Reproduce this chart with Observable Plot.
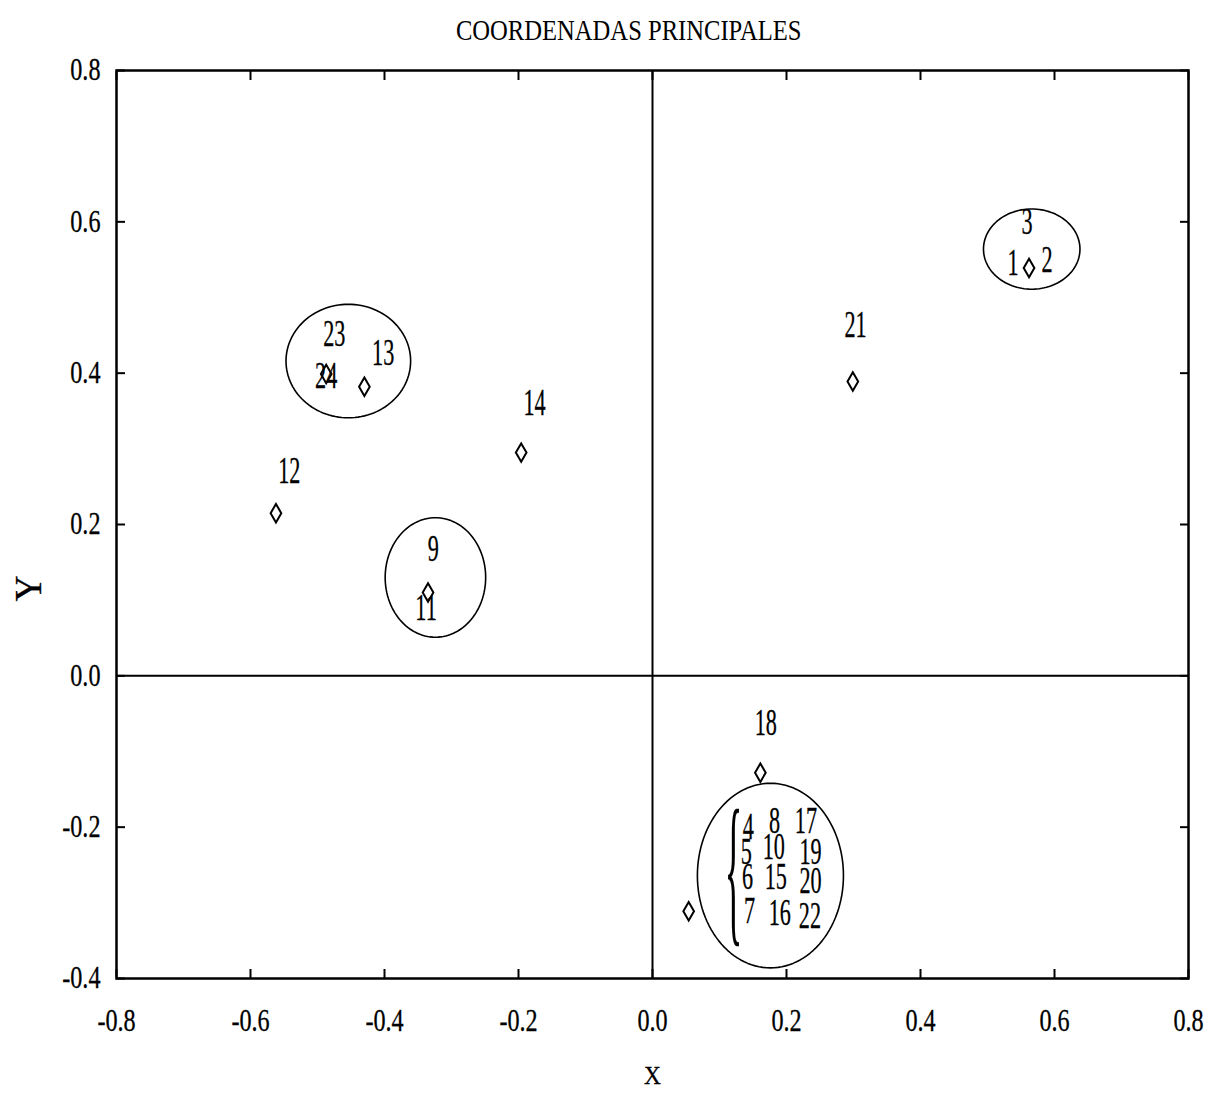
<!DOCTYPE html>
<html><head><meta charset="utf-8">
<script src="https://cdn.jsdelivr.net/npm/d3@7"></script>
<script src="https://cdn.jsdelivr.net/npm/@observablehq/plot@0.6"></script>
<style>
body{margin:0;background:#fff;font-family:"Liberation Serif","Times New Roman",serif;}
#title{width:1209px;height:50px;line-height:60px;box-sizing:border-box;padding-left:49px;text-align:center;font-size:30px;color:#000;white-space:nowrap;overflow:visible;position:relative;z-index:1}
#title span{display:inline-block;transform:scaleX(0.82);}
#chart svg{display:block}
#chart svg text{stroke:#000;stroke-width:0.3px}
</style></head><body>
<div id="title"><span>COORDENADAS PRINCIPALES</span></div>
<div id="chart"></div>
<script>
// Tick values
const xTicks = [-0.8, -0.6, -0.4, -0.2, 0.0, 0.2, 0.4, 0.6, 0.8];
const yTicks = [-0.4, -0.2, 0.0, 0.2, 0.4, 0.6, 0.8];

// Plotted points (diamonds)
const pointX = [0.562, 0.299, -0.430, -0.487, -0.196, -0.562, -0.335, 0.161, 0.054];
const pointY = [0.539, 0.389, 0.382, 0.399, 0.295, 0.215, 0.110, -0.128, -0.311];

// Point labels
const labelText = ["3", "1", "2", "21", "23", "13", "24", "14", "12", "9", "11", "18",
  "4", "8", "17", "5", "10", "19", "6", "15", "20", "7", "16", "22"];
const labelX = [0.559, 0.538, 0.589, 0.303, -0.475, -0.402, -0.487, -0.176, -0.542, -0.327, -0.338, 0.169,
  0.143, 0.182, 0.229, 0.140, 0.181, 0.236, 0.142, 0.184, 0.236, 0.145, 0.190, 0.235];
const labelY = [0.599, 0.546, 0.550, 0.463, 0.451, 0.427, 0.396, 0.361, 0.271, 0.168, 0.089, -0.063,
  -0.200, -0.192, -0.192, -0.233, -0.226, -0.233, -0.266, -0.266, -0.271, -0.311, -0.313, -0.318];

// Group ellipses (centre and radii in data units)
const ellipseCX = [-0.454, -0.324, 0.566, 0.176];
const ellipseCY = [0.416, 0.130, 0.564, -0.264];
const ellipseRX = [0.093, 0.075, 0.072, 0.109];
const ellipseRY = [0.075, 0.079, 0.053, 0.122];

// Brace grouping the lower cluster
const braceX = [0.121];
const braceY = [-0.258];

const points = pointX.map((x, i) => ({x, y: pointY[i]}));
const labels = labelText.map((t, i) => ({t, x: labelX[i], y: labelY[i]}));
const ellipsePts = [];
ellipseCX.forEach((cx, i) => {
  for (let a = 0; a <= 360; a += 3) {
    const t = a * Math.PI / 180;
    ellipsePts.push({g: i, x: cx + ellipseRX[i] * Math.cos(t), y: ellipseCY[i] + ellipseRY[i] * Math.sin(t)});
  }
});
const brace = braceX.map((x, i) => ({x, y: braceY[i]}));
const fmt = d => d.toFixed(1);

const svg = Plot.plot({
  width: 1209, height: 1052,
  marginLeft: 116, marginRight: 21, marginTop: 20, marginBottom: 124,
  style: {fontFamily: "'Liberation Serif', 'Times New Roman', serif", color: "#000", background: "#fff", overflow: "visible"},
  x: {domain: [-0.8, 0.8]},
  y: {domain: [-0.4, 0.8]},
  marks: [
    Plot.ruleX([0], {stroke: "#000", strokeWidth: 2}),
    Plot.ruleY([0], {stroke: "#000", strokeWidth: 2}),
    Plot.line(ellipsePts, {x: "x", y: "y", z: "g", stroke: "#000", strokeWidth: 1.6}),
    Plot.dot(points, {x: "x", y: "y", symbol: "diamond", r: 5.6, stroke: "#000", fill: "#fff", strokeWidth: 2}),
    Plot.text(labels, {x: "x", y: "y", text: "t", fontSize: 37, lineAnchor: "middle", fill: "#000"}),
    Plot.text(brace, {x: "x", y: "y", text: () => "{", fontSize: 166, lineAnchor: "middle", fill: "#000"}),
    Plot.axisX({anchor: "bottom", ticks: xTicks, tickSize: -9, tickPadding: 39, tickFormat: fmt, fontSize: 31, label: null, strokeWidth: 2}),
    Plot.axisX({anchor: "top", ticks: xTicks, tickSize: -9, tickFormat: () => "", label: null, strokeWidth: 2}),
    Plot.axisY({anchor: "left", ticks: yTicks, tickSize: -9, tickPadding: 25, tickFormat: fmt, fontSize: 31, label: null, strokeWidth: 2}),
    Plot.axisY({anchor: "right", ticks: yTicks, tickSize: -9, tickFormat: () => "", label: null, strokeWidth: 2}),
    Plot.frame({stroke: "#000", strokeWidth: 2.5}),
    Plot.text(["X"], {frameAnchor: "bottom", dy: 105, fontSize: 26, fill: "#000"}),
    Plot.text(["Y"], {frameAnchor: "left", dx: -88, dy: 77, rotate: -90, fontSize: 38, fill: "#000"})
  ]
});

// Horizontally condense the serif text to match the narrow typeface of the original
const scaleBySize = {"37": 0.6, "31": 0.78, "26": 0.9, "38": 0.95, "166": 0.22};
svg.querySelectorAll("text").forEach(t => {
  const g = t.closest("g[font-size]");
  const fs = g ? g.getAttribute("font-size") : null;
  const s = scaleBySize[fs];
  if (s) {
    const tr = t.getAttribute("transform") || "";
    t.setAttribute("transform", tr + ` scale(${s},1)`);
  }
});
document.getElementById("chart").appendChild(svg);
</script>
</body></html>
